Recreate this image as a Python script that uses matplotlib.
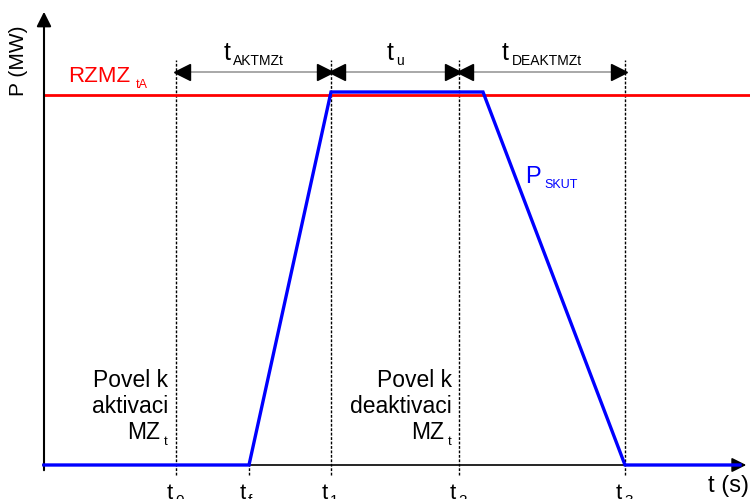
import matplotlib.pyplot as plt

plt.rcParams['font.family'] = ['Liberation Sans', 'DejaVu Sans']

# time marks (t0, tf, t1, t2, t3) and their subscripts
t_marks = [132, 205, 287, 415, 581]
t_subs = ['0', 'f', '1', '2', '3']

# P_SKUT curve
p_time = [0, 205, 287, 439, 581, 696]
p_power = [0, 0, 373, 373, 0, 0]

# RZMZ_tA level
rzmz_level = 370

# dimension arrows between time marks
spans = [(132, 287, 'AKTMZt'), (287, 415, 'u'), (415, 581, 'DEAKTMZt')]

fig = plt.figure(figsize=(7.5, 4.99), dpi=100)
ax = fig.add_axes([0, 0, 1, 1])
ax.set_xlim(-44, 706)
ax.set_ylim(-34, 465)
ax.axis('off')
renderer = fig.canvas.get_renderer()

def width(txt):
    # text width in data units (1 unit = 1 px here)
    return txt.get_window_extent(renderer).width

# axes with arrows
ax.annotate('', xy=(0, 456), xytext=(0, -8),
            arrowprops=dict(arrowstyle='-|>', mutation_scale=22, lw=1.5, color='black'))
ax.annotate('', xy=(705, 0), xytext=(-4, 0),
            arrowprops=dict(arrowstyle='-|>', mutation_scale=22, lw=1.2, color='black'))

# dotted vertical lines
for i, t in enumerate(t_marks):
    top = 0 if t_subs[i] == 'f' else 405
    ax.plot([t, t], [-10, top], color='black', lw=1, ls=(0, (2, 1.2)), zorder=1)

# red level
ax.plot([0, 706], [rzmz_level, rzmz_level], color='#ff0000', lw=2, zorder=2)

# blue curve
ax.plot(p_time, p_power, color='#0000ff', lw=2.4, zorder=3, solid_joinstyle='miter')

# dimension arrows
ya = 393
for a, b, sub in spans:
    ax.plot([a + 4, b - 4], [ya, ya], color='#999999', lw=1.2, zorder=2)
    ax.plot([a + 6], [ya], marker='<', color='black', ms=11, zorder=4)
    ax.plot([b - 6], [ya], marker='>', color='black', ms=11, zorder=4)
    mid = (a + b) / 2
    tt = ax.text(0, 405, 't', fontsize=18, ha='left', va='baseline')
    st = ax.text(0, 400, sub, fontsize=10, ha='left', va='baseline')
    w1, w2 = width(tt), width(st)
    x0 = mid - (w1 + 3 + w2) / 2
    tt.set_x(x0)
    st.set_x(x0 + w1 + 3)

# texts
ax.text(-26, 404, 'P (MW)', fontsize=15, rotation=90, ha='center', va='center')
ax.text(24, 383, 'RZMZ', fontsize=16, color='#ff0000', ha='left', va='baseline')
ax.text(92, 377, 'tA', fontsize=9, color='#ff0000', ha='left', va='baseline')
ax.text(481, 282, 'P', fontsize=17, color='#0000ff', ha='left', va='baseline')
ax.text(500, 277, 'SKUT', fontsize=9, color='#0000ff', ha='left', va='baseline')

for right, word in [(124, 'aktivaci'), (408, 'deaktivaci')]:
    ax.text(right, 78, 'Povel k', fontsize=16.5, ha='right', va='baseline')
    ax.text(right, 52, word, fontsize=16.5, ha='right', va='baseline')
    ax.text(right - 8, 26, 'MZ', fontsize=16.5, ha='right', va='baseline')
    ax.text(right - 4, 20, 't', fontsize=9.5, ha='left', va='baseline')

# time mark labels
for t, s in zip(t_marks, t_subs):
    ax.text(t - 3, -34, 't', fontsize=16, ha='right', va='baseline')
    ax.text(t - 1, -40, s, fontsize=11, ha='left', va='baseline')

ax.text(685, -27, 't (s)', fontsize=17, ha='center', va='baseline')

fig.savefig('out.png', dpi=100)
